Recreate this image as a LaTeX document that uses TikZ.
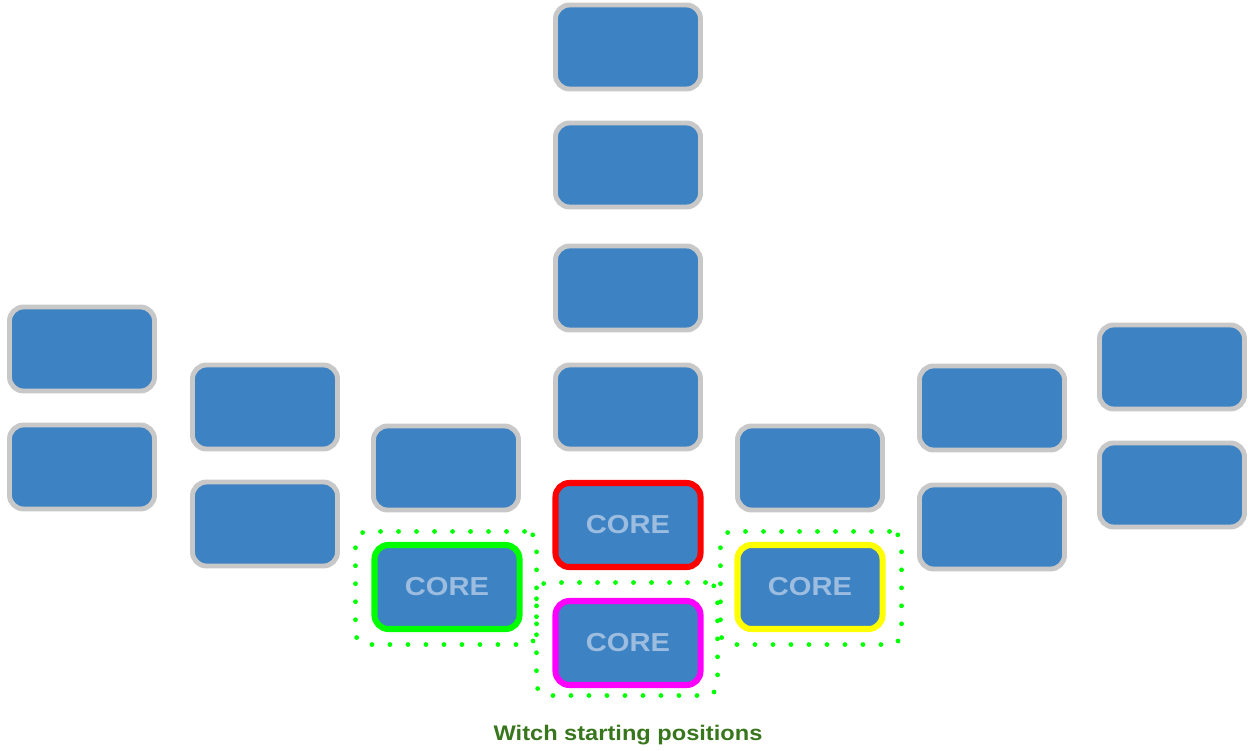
\documentclass[tikz,border=0pt]{standalone}
\usepackage{fontspec}
\setmainfont{Liberation Sans}
\newfontfamily\widesans[FakeStretch=1.12]{Liberation Sans}
\usetikzlibrary{positioning}

\definecolor{slotblue}{HTML}{3D82C2}
\definecolor{slotgray}{HTML}{C8C8C8}
\definecolor{corelabel}{HTML}{9CBDE0}
\definecolor{captiongreen}{HTML}{38761D}
\definecolor{zonegreen}{HTML}{00FF00}
\definecolor{coremagenta}{HTML}{FF00FF}
\definecolor{coreyellow}{HTML}{FFFF00}
\definecolor{corered}{HTML}{FF0000}

\tikzset{
  slot/.style={draw=slotgray, fill=slotblue, line width=3.5pt, rounded corners=0.35cm,
    minimum width=3.625cm, minimum height=2.1cm, inner sep=0pt},
  core/.style={slot, draw=#1, line width=4.3pt, text=corelabel,
    font=\widesans\bfseries\fontsize{18.5}{22}\selectfont},
  zone/.style={draw=zonegreen, line width=3.4pt, line cap=round,
    dash pattern=on 0pt off 12.8pt, rounded corners=0.3cm,
    minimum width=4.525cm, minimum height=2.825cm, inner sep=0pt},
}

\begin{document}
\begin{tikzpicture}[x=0.025cm, y=-0.025cm]
    \useasboundingbox (0,0) rectangle (1248,750);

    % Dotted zones round the side cores
    \node[zone] (zoneleft) at (446,588) {};
    \node[zone] (zonemid) at (627,639) {};
    \node[zone] (zoneright) at (811,588) {};

    % Empty slots
    \foreach \x/\y/\n in {82/349/a1, 82/467/a2,
                          265/407/b1, 265/524/b2,
                          446/468/c1,
                          628/47/d1, 628/165/d2, 628/288/d3, 628/407/d4,
                          810/468/e1,
                          992/408/f1, 992/527/f2,
                          1172/367/g1, 1172/485/g2} {
        \node[slot] (slot\n) at (\x,\y) {};
    }

    % Cores
    \node[core=corered] (redcore) at (628,525) {CORE};
    \node[core=coremagenta] (magentacore) at (628,643) {CORE};
    \node[core=zonegreen] (greencore) at (447,587) {CORE};
    \node[core=coreyellow] (yellowcore) at (810,587) {CORE};

    % Caption
    \node[text=captiongreen, font=\widesans\bfseries\fontsize{15}{18}\selectfont] (caption) at (628,735) {Witch starting positions};
\end{tikzpicture}
\end{document}
